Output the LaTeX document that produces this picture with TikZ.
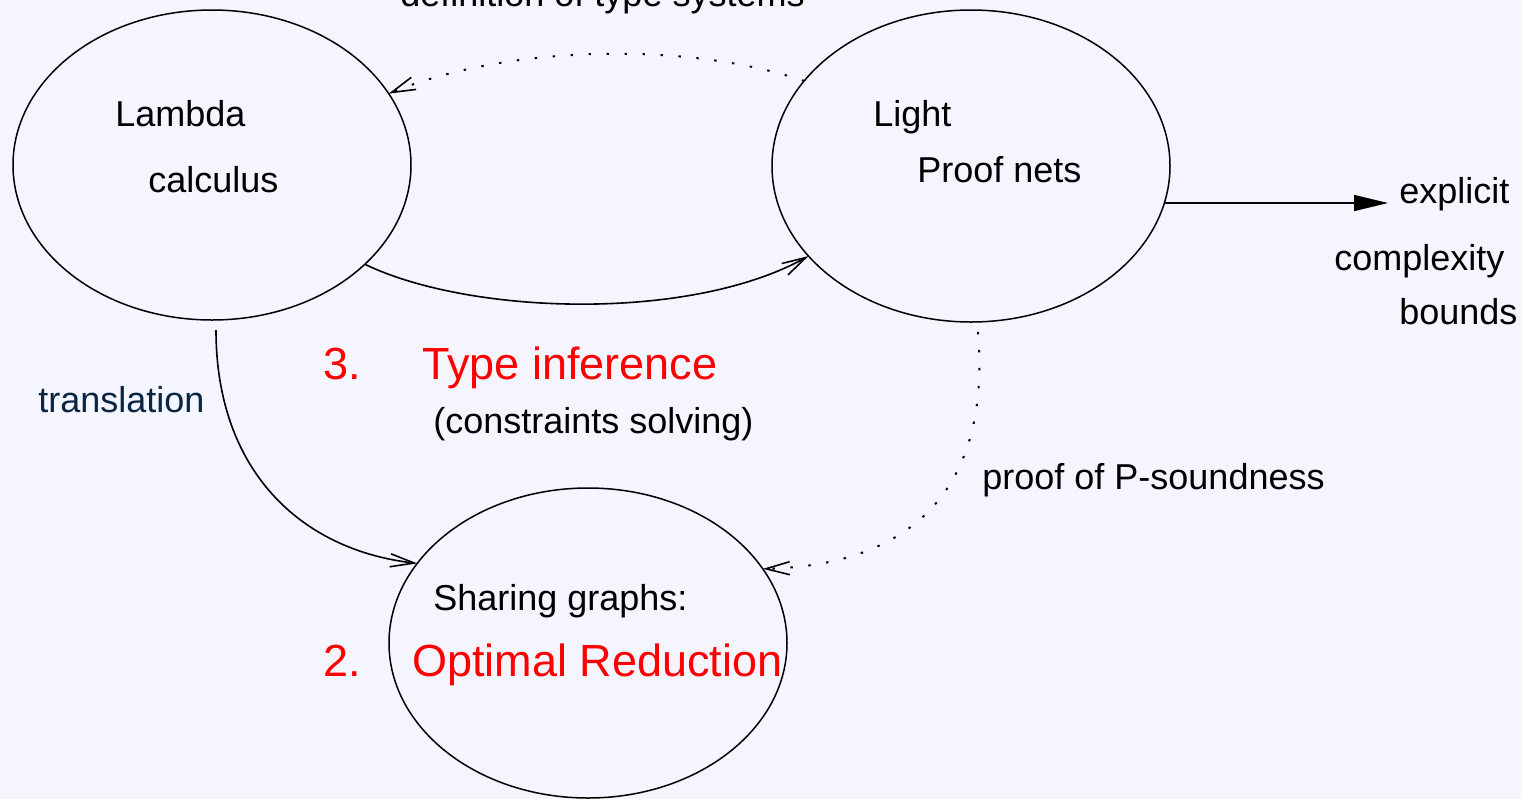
\documentclass[tikz,border=0pt]{standalone}
\usepackage{fontspec}
\setmainfont{Liberation Sans}
\usetikzlibrary{shapes.geometric,arrows.meta}
\definecolor{bgcol}{RGB}{244,245,255}
\definecolor{navy}{RGB}{10,37,64}
\begin{document}
\begin{tikzpicture}[x=0.5pt,y=-0.5pt,
  blob/.style={ellipse,draw,line width=0.75pt,minimum width=199pt,minimum height=155pt,inner sep=0pt,outer sep=0pt},
  txt/.style={anchor=base west,inner sep=0pt,font=\fontsize{18pt}{21pt}\selectfont},
  redtxt/.style={anchor=base west,inner sep=0pt,text=red,font=\fontsize{22.5pt}{26pt}\selectfont},
  conn/.style={line width=0.8pt,-{Straight Barb[length=12pt,width=6.5pt,line width=0.8pt]}},
  dotconn/.style={conn,line width=1pt,dash pattern=on 1.2pt off 7.8pt},
  bigarrow/.style={line width=0.8pt,-{Triangle[length=17pt,width=8pt]}}]
\fill[bgcol] (0,0) rectangle (1522,799);
\clip (0,0) rectangle (1522,799);
\useasboundingbox (0,0) rectangle (1522,799);

\node[blob] (lam) at (212,165) {};
\node[blob,minimum height=156pt] (light) at (971,166) {};
\node[blob] (share) at (588,643) {};

\node[txt] (deftxt) at (400,6) {definition of type systems};
\node[txt] (lamA) at (115,126) {Lambda};
\node[txt] (lamB) at (148,192) {calculus};
\node[txt] (lightA) at (873,126) {Light};
\node[txt] (lightB) at (917,182) {Proof nets};
\node[txt] (expA) at (1399,203) {explicit};
\node[txt] (expB) at (1334,270) {complexity};
\node[txt] (expC) at (1399,324) {bounds};
\node[redtxt] (n3) at (323,379) {3.};
\node[redtxt] (typeinf) at (422,379) {Type inference};
\node[txt] (constr) at (433,433) {(constraints solving)};
\node[txt,text=navy] (transl) at (38,412) {translation};
\node[txt] (psound) at (982,489) {proof of P-soundness};
\node[txt] (shareA) at (433,610) {Sharing graphs:};
\node[redtxt] (n2) at (323,676) {2.};
\node[redtxt] (optred) at (412,676) {Optimal Reduction};

\coordinate (expin) at (1388,203);

% connectors
\draw[dotconn] (light.153) .. controls (690,42) and (510,44) .. (lam.22);
\draw[conn] (lam.-33) .. controls (470,315) and (690,322) .. (light.209);
\draw[bigarrow] (light.-10.6 |- expin) -- (expin);
\draw[conn,shorten <=5pt] ([xshift=2pt]lam.south) .. controls (216,470) and (300,550) .. (share.155.6);
\draw[dotconn,shorten <=5pt] ([xshift=3pt]light.south) .. controls (990,470) and (930,565) .. (share.23.3);
\end{tikzpicture}
\end{document}
